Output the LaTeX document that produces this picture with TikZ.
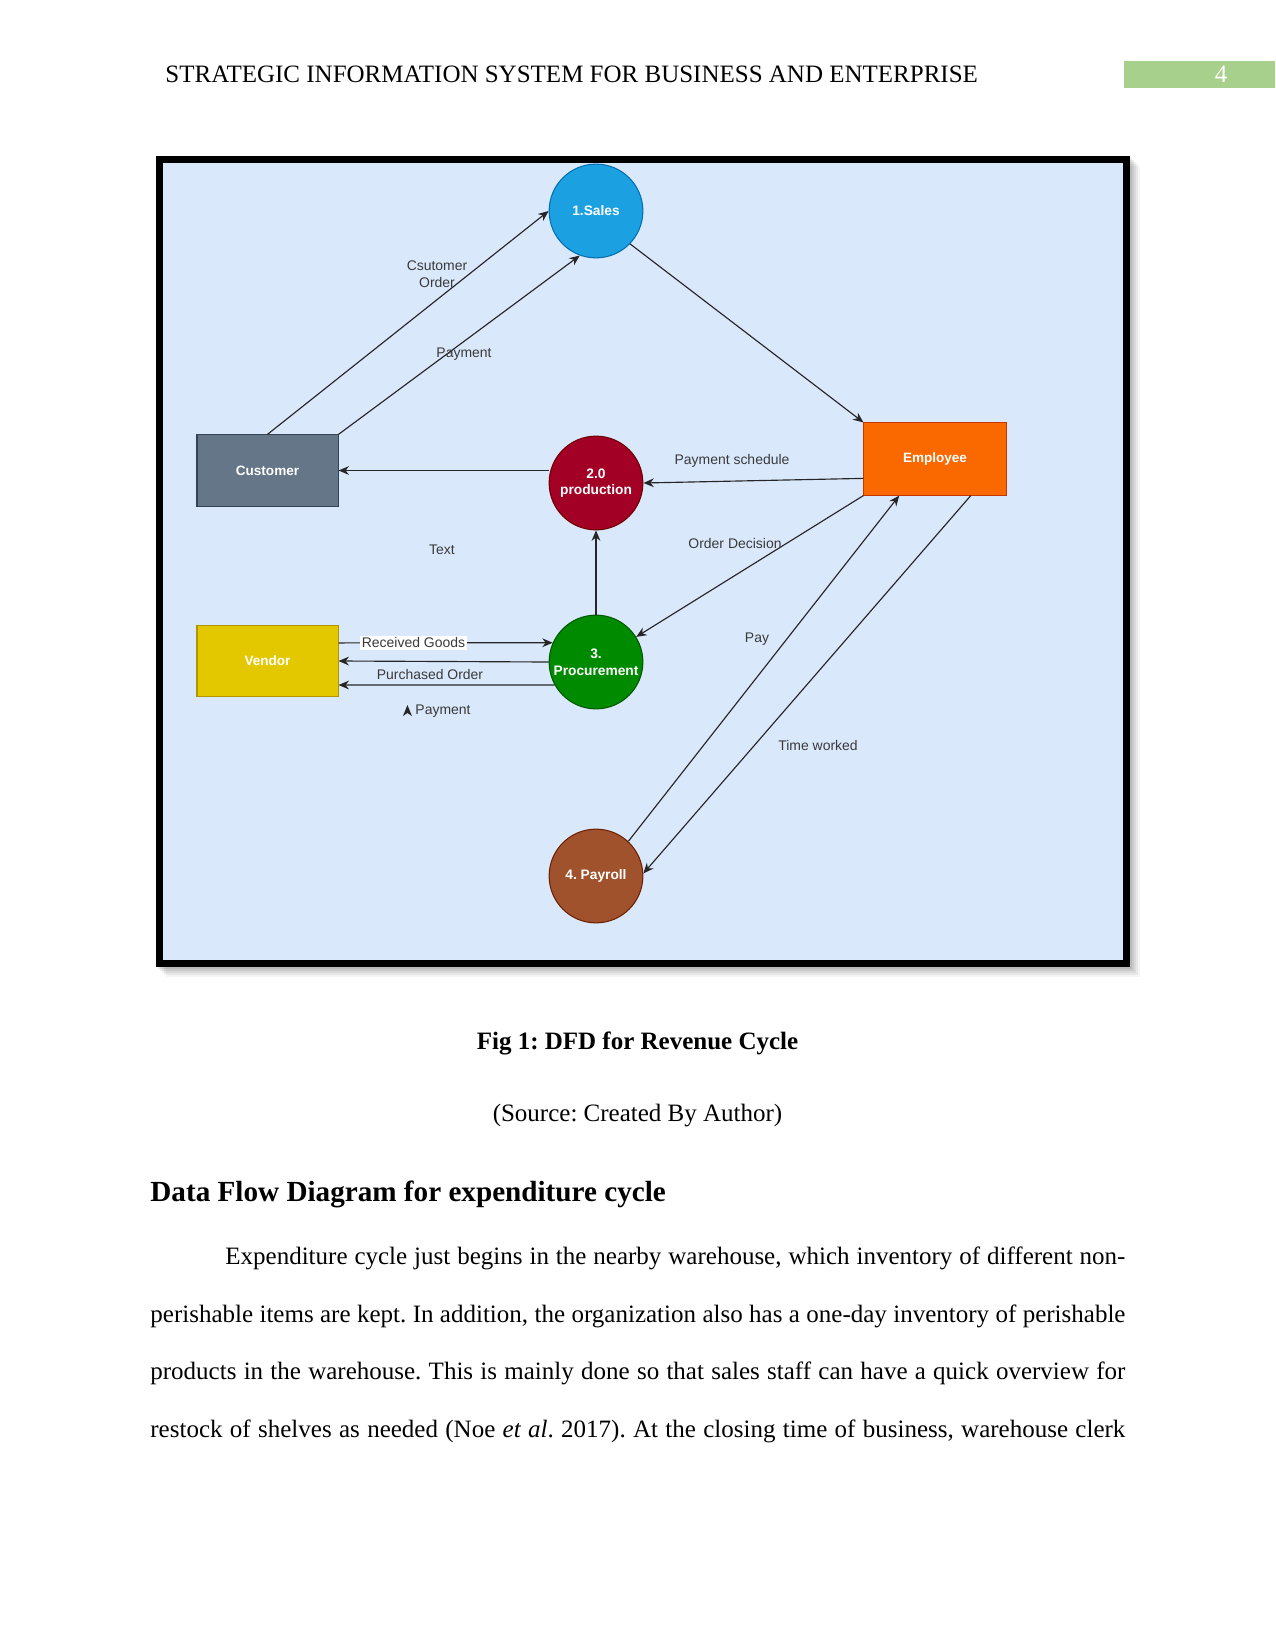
\documentclass[tikz,border=0pt]{standalone}
\usepackage{fontspec}
\setmainfont{Liberation Serif}
\newfontfamily\dfont{Liberation Sans}
\usetikzlibrary{arrows.meta,calc}
\definecolor{bgblue}{HTML}{DAE8FC}
\definecolor{salesF}{HTML}{1BA1E2}\definecolor{salesD}{HTML}{006EAF}
\definecolor{custF}{HTML}{647687}\definecolor{custD}{HTML}{314354}
\definecolor{prodF}{HTML}{A20025}\definecolor{prodD}{HTML}{6F0000}
\definecolor{empF}{HTML}{FA6800}\definecolor{empD}{HTML}{C73500}
\definecolor{vendF}{HTML}{E3C800}\definecolor{vendD}{HTML}{B09500}
\definecolor{procF}{HTML}{008A00}\definecolor{procD}{HTML}{005700}
\definecolor{payF}{HTML}{A0522D}\definecolor{payD}{HTML}{6D1F00}
\definecolor{pgnum}{HTML}{A8D08D}
\definecolor{lbltext}{HTML}{3A3A3A}
\newcommand\jl[1]{\hbox to 468pt{#1}}
\begin{document}
\frenchspacing
\begin{tikzpicture}[x=0.48pt,y=-0.48pt,
  pcircle/.style={circle, minimum size=45pt, inner sep=0pt, line width=0.5pt,
    font=\dfont\bfseries\fontsize{6.6}{8}\selectfont, text=white, align=center},
  entbox/.style={rectangle, minimum width=67.7pt, minimum height=34.2pt, inner sep=0pt, line width=0.5pt,
    font=\dfont\bfseries\fontsize{6.5}{8}\selectfont, text=white, align=center},
  arr/.style={-{Stealth[length=5pt,width=4.2pt]}, line width=0.55pt, draw=black!85},
  lbl/.style={font=\dfont\fontsize{6.7}{8}\selectfont, text=lbltext, align=center, inner sep=1pt},
  body/.style={anchor=base west, inner sep=0pt, font=\fontsize{12}{14}\selectfont},
  ctr/.style={anchor=base, inner sep=0pt, font=\fontsize{12}{14}\selectfont}]
\useasboundingbox (0,0) rectangle (1275,1651);
\fill[white] (0,0) rectangle (1275,1651);

% running header
\node[body] (hdr) at (165,83) {STRATEGIC INFORMATION SYSTEM FOR BUSINESS AND ENTERPRISE};
\fill[pgnum] (1124,61) rectangle (1275,88);
\node[ctr, text=white] (pgno) at (1221,83) {4};

% frame with soft shadow
\foreach \o/\op in {10/0.04,8/0.05,6/0.06,4/0.07,2/0.08}
  \fill[black,opacity=\op] (156+\o,156+\o) rectangle (1130+\o,967+\o);
\fill[bgblue] (163,163) rectangle (1123,960);
\draw[line width=3.36pt] (159.5,159.5) rectangle (1126.5,963.5);

% nodes
\node[pcircle, fill=salesF, draw=salesD] (sales) at (596,211) {1.Sales};
\node[entbox, fill=custF, draw=custD] (cust) at (267.5,470.5) {Customer};
\node[pcircle, fill=prodF, draw=prodD] (prod) at (596,483) {2.0\\production};
\node[entbox, fill=empF, draw=empD, minimum width=68.2pt, minimum height=34.6pt] (emp) at (935,459) {Employee};
\node[entbox, fill=vendF, draw=vendD] (vend) at (267.5,661) {Vendor};
\node[pcircle, fill=procF, draw=procD] (procu) at (596,662) {3.\\Procurement};
\node[pcircle, fill=payF, draw=payD] (pay) at (596,876) {4. Payroll};

% connectors
\draw[arr] (cust.north) -- (sales.west);
\draw[arr] (cust.north east) -- (sales.250);
\draw[arr] (sales.316) -- (emp.north west);
\draw[arr] (cust.east -| prod.west) -- (cust.east);
\draw[arr] ($(emp.west)!0.53!(emp.south west)$) -- (prod.east);
\draw[arr] (procu.north) -- (prod.south);
\draw[arr] (emp.south west) -- (procu.32);
\draw[arr] (pay.47) -- ($(emp.south west)!0.25!(emp.south east)$);
\draw[arr] ($(emp.south west)!0.75!(emp.south east)$) -- (pay.3);
\draw[arr] ($(vend.north east)!0.25!(vend.south east)$) -- node[lbl, pos=0.35, fill=white] (lrg) {Received Goods} (procu.156);
\draw[arr] (procu.west) -- (vend.east);
\draw[arr] (procu.209) -- ($(vend.east)+(0,24)$);

% labels
\node[lbl] (lco) at (437,274) {Csutomer\\Order};
\node[lbl] (lpm) at (464,354) {Payment};
\node[lbl] (lps) at (732,461) {Payment schedule};
\node[lbl] (ltx) at (442,550) {Text};
\node[lbl] (lod) at (735,544) {Order Decision};
\node[lbl] (lpy) at (757,639) {Pay};
\node[lbl] (ltw) at (818,746) {Time worked};
\node[lbl] (lpo) at (430,675) {Purchased Order};
\node[lbl] (lp2) at (443,711) {Payment};
\fill[black!85] ($(lp2.west)+(-10,5)$) -- ($(lp2.west)+(-5.5,-6)$) -- ($(lp2.west)+(-1,5)$) -- ($(lp2.west)+(-5.5,2)$) -- cycle;

% caption
\node[ctr, font=\fontsize{12}{14}\selectfont\bfseries] (cap) at (637.5,1049) {Fig 1: DFD for Revenue Cycle};
\node[ctr] (src) at (637.5,1121) {(Source: Created By Author)};

% heading
\node[body, font=\fontsize{14}{16}\selectfont\bfseries] (head) at (150,1201) {Data Flow Diagram for expenditure cycle};

% paragraph
\node[body] (p1) at (150,1264) {\jl{\hspace*{36pt}Expenditure cycle just begins in the nearby warehouse, which inventory of different non-}};
\node[body] (p2) at (150,1322) {\jl{perishable items are kept. In addition, the organization also has a one-day inventory of perishable}};
\node[body] (p3) at (150,1379) {\jl{products in the warehouse. This is mainly done so that sales staff can have a quick overview for}};
\node[body] (p4) at (150,1437) {\jl{restock of shelves as needed (Noe \textit{et al}. 2017). At the closing time of business, warehouse clerk}};
\end{tikzpicture}
\end{document}
